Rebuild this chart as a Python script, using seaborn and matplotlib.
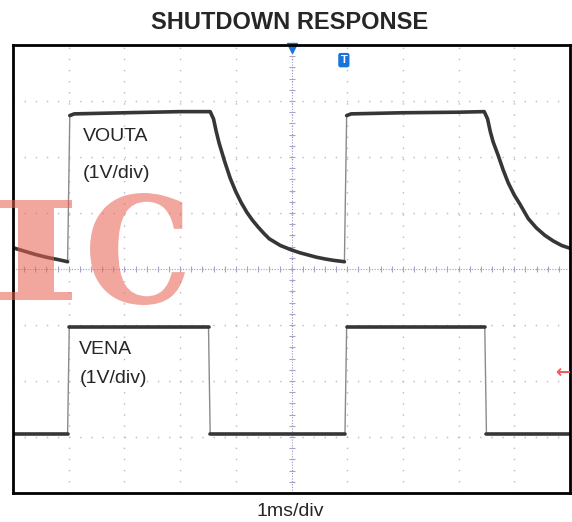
import numpy as np
import pandas as pd
import matplotlib.pyplot as plt
from matplotlib.ticker import MultipleLocator
from matplotlib.textpath import TextPath
from matplotlib.patches import PathPatch
from matplotlib.font_manager import FontProperties
from matplotlib.transforms import Affine2D
import seaborn as sns

# Set style for visualizations
sns.set_style('white')
plt.rcParams['font.family'] = ['Liberation Sans', 'DejaVu Sans']

## Trace data (x in ms = div, y in div)
vouta_t = [-5.0, -4.8, -4.6, -4.4, -4.2, -4.02,
           -3.98, -3.9, -3.0, -2.0, -1.46,
           -1.40, -1.35, -1.30, -1.2, -1.1, -1.0, -0.9, -0.8, -0.7, -0.6, -0.5, -0.4,
           -0.3, -0.2, -0.1, 0.0, 0.15, 0.3, 0.45, 0.6, 0.75, 0.95,
           0.99, 1.07, 2.0, 3.0, 3.46,
           3.52, 3.57, 3.62, 3.71, 3.8, 3.89, 4.0, 4.1, 4.25, 4.4, 4.55, 4.7, 4.85, 5.0]
vouta_v = [0.38, 0.32, 0.26, 0.21, 0.17, 0.13,
           2.74, 2.77, 2.79, 2.81, 2.81,
           2.68, 2.45, 2.25, 1.92, 1.62, 1.38, 1.18, 1.01, 0.87, 0.75, 0.64, 0.54,
           0.48, 0.42, 0.38, 0.34, 0.29, 0.25, 0.21, 0.18, 0.155, 0.13,
           2.74, 2.77, 2.79, 2.80, 2.81,
           2.68, 2.45, 2.27, 2.03, 1.77, 1.54, 1.32, 1.16, 0.90, 0.73, 0.60, 0.50, 0.42, 0.37]

vena_t = [-5.0, -4.02, -3.99, -1.49, -1.46, 0.96, 0.99, 3.47, 3.50, 5.0]
vena_v = [-2.95, -2.95, -1.04, -1.04, -2.95, -2.95, -1.04, -1.04, -2.95, -2.95]

trace_labels = ['VOUTA', 'VENA']
scale_label = '(1V/div)'
title = 'SHUTDOWN RESPONSE'
time_label = '1ms/div'
watermark = 'IC'


def make_df(t, v, name):
    """Split a trace into segments at its fast edges"""
    df = pd.DataFrame({'t': t, 'v': v})
    edge = (df['v'].diff().abs() > 1.0) & (df['t'].diff() < 0.1)
    df['seg'] = edge.cumsum()
    df['trace'] = name
    return df


def add_glyph(fig, ch, x0, x1, top, bottom):
    """Put one watermark letter into a pixel box (top/bottom measured from the top)"""
    prop = FontProperties(family='DejaVu Serif', weight='bold')
    tp = TextPath((0, 0), ch, size=100, prop=prop)
    ext = tp.get_extents()
    H = fig.bbox.height
    sx = (x1 - x0) / ext.width
    sy = (bottom - top) / ext.height
    tr = Affine2D().translate(-ext.x0, -ext.y0).scale(sx, sy).translate(x0, H - bottom)
    patch = PathPatch(tr.transform_path(tp), fc='#e8604f', ec='none', alpha=0.55,
                      transform=None, zorder=10)
    fig.patches.append(patch)


df_out = make_df(vouta_t, vouta_v, trace_labels[0])
df_ena = make_df(vena_t, vena_v, trace_labels[1])
df = pd.concat([df_out, df_ena], ignore_index=True)
df['unit'] = df['trace'] + '_' + df['seg'].astype(str)

fig = plt.figure(figsize=(5.72, 5.22), dpi=100)
ax = fig.add_axes([13 / 572, 1 - 493 / 522, 557 / 572, 448 / 522])

# scope graticule
ax.set_xlim(-5, 5)
ax.set_ylim(-4, 4)
ax.set_xticks(np.arange(-5, 6, 1))
ax.set_yticks(np.arange(-4, 5, 1))
ax.xaxis.set_minor_locator(MultipleLocator(0.2))
ax.yaxis.set_minor_locator(MultipleLocator(0.2))
ax.set_xticklabels([])
ax.set_yticklabels([])
ax.tick_params(which='major', length=0)
ax.tick_params(which='minor', direction='in', length=3, color='#b8b8cc', width=0.8)
ax.grid(True, which='major', color='#b8b8cc', linestyle=(0, (1, 7)), linewidth=1)
ax.axhline(0, color='#9a9ac4', lw=0.8, linestyle=(0, (1, 1.5)), zorder=1)
ax.axvline(0, color='#9a9ac4', lw=0.8, linestyle=(0, (1, 1.5)), zorder=1)
minor = np.arange(-5, 5.01, 0.2)
ax.plot(minor, np.zeros_like(minor), marker='|', ms=5, ls='none', color='#a4a4c8', mew=0.8)
minor_y = np.arange(-4, 4.01, 0.2)
ax.plot(np.zeros_like(minor_y), minor_y, marker='_', ms=5, ls='none', color='#a4a4c8', mew=0.8)
for s in ax.spines.values():
    s.set_color('black')
    s.set_linewidth(2)

# traces: thin grey edges under, thick levels on top
sns.lineplot(data=df, x='t', y='v', units='trace', estimator=None, sort=False,
             color='#8a8a8a', lw=1.0, ax=ax, legend=False)
sns.lineplot(data=df, x='t', y='v', units='unit', estimator=None, sort=False,
             color='#363636', lw=2.6, ax=ax, legend=False)
ax.set_xlabel('')
ax.set_ylabel('')

# trace labels
ax.text(-3.74, 2.36, trace_labels[0], fontsize=14, va='center', ha='left')
ax.text(-3.74, 1.70, scale_label, fontsize=14, va='center', ha='left')
ax.text(-3.81, -1.43, trace_labels[1], fontsize=14, va='center', ha='left')
ax.text(-3.80, -1.96, scale_label, fontsize=14, va='center', ha='left')

# scope markers
ax.plot(0, 3.94, marker='v', color='#1a73d9', ms=7, clip_on=False)
ax.text(0.94, 3.73, 'T', color='white', fontweight='bold', fontsize=8, ha='center', va='center',
        bbox=dict(boxstyle='round,pad=0.2', fc='#1a73d9', ec='none'))
ax.text(4.86, -1.86, '←', color='#f05a5a', fontsize=13, fontweight='bold', ha='center', va='center',
        family='DejaVu Sans')

fig.text(290 / 572, 1 - 29 / 522, title, fontsize=17, fontweight='bold', ha='center', va='baseline')
fig.text(290 / 572, 1 - 511 / 522, time_label, fontsize=14, ha='center', va='center')

# watermark letters
add_glyph(fig, watermark[0], 0, 72, 200, 300)
add_glyph(fig, watermark[1], 90, 185, 193, 305)

fig.savefig('out.png', dpi=100)
